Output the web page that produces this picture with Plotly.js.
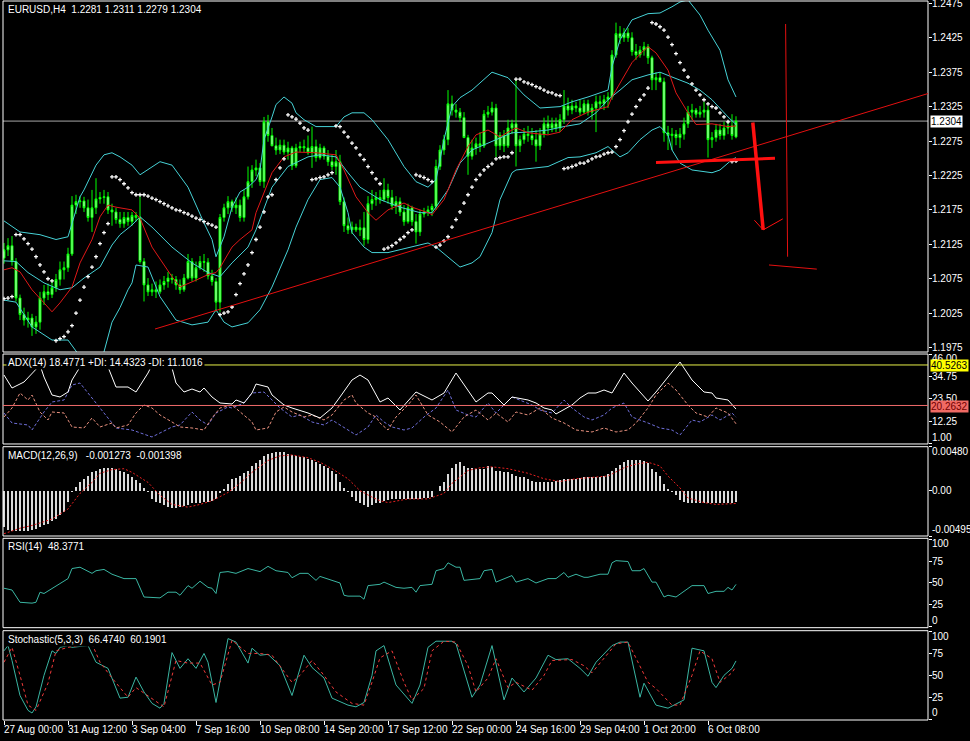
<!DOCTYPE html>
<html><head><meta charset="utf-8">
<script src="https://cdn.plot.ly/plotly-3.0.1.min.js"></script>
<style>html,body{margin:0;padding:0;background:#000;}#chart{width:970px;height:741px;}</style>
</head><body><div id="chart"></div>
<script>
// ---------- data ----------
const symbolName = "EURUSD,H4";
const tickBars = [0,16,32,48,64,80,96,112,128,144,160,176];
const tickLabels = ["27 Aug 00:00","31 Aug 12:00","3 Sep 04:00","7 Sep 16:00","10 Sep 08:00","14 Sep 20:00","17 Sep 12:00","22 Sep 00:00","24 Sep 16:00","29 Sep 04:00","1 Oct 20:00","6 Oct 08:00"];
const priceTicks = [1.1975,1.2025,1.2075,1.2125,1.2175,1.2225,1.2275,1.2325,1.2375,1.2425,1.2475];
const adxTicks = [1, 12.25, 23.5, 34.75, 46];
const macdTicks = [-0.00495, 0, 0.0048];
const macdTickText = ['-0.00495','0.00','0.00480'];
const pctTicks = [0, 25, 50, 75, 100];

const open = [1.2105,1.2117,1.2123,1.2100,1.2047,1.2023,1.2015,1.2018,1.2005,1.2012,
1.2047,1.2056,1.2052,1.2062,1.2074,1.2088,1.2091,1.2111,1.2182,1.2187,
1.2188,1.2178,1.2164,1.2178,1.2191,1.2193,1.2194,1.2175,1.2172,1.2161,
1.2155,1.2164,1.2158,1.2167,1.2164,1.2100,1.2066,1.2056,1.2059,1.2056,
1.2066,1.2071,1.2076,1.2074,1.2066,1.2059,1.2076,1.2100,1.2076,1.2091,
1.2100,1.2099,1.2079,1.2071,1.2041,1.2164,1.2178,1.2187,1.2178,1.2182,
1.2164,1.2194,1.2216,1.2233,1.2236,1.2216,1.2303,1.2283,1.2268,1.2262,
1.2269,1.2259,1.2265,1.2239,1.2265,1.2267,1.2265,1.2258,1.2267,1.2251,
1.2265,1.2253,1.2245,1.2238,1.2245,1.2187,1.2152,1.2146,1.2150,1.2146,
1.2149,1.2132,1.2184,1.2190,1.2193,1.2190,1.2204,1.2193,1.2181,1.2187,
1.2172,1.2158,1.2178,1.2158,1.2143,1.2169,1.2172,1.2175,1.2180,1.2238,
1.2262,1.2277,1.2329,1.2320,1.2317,1.2309,1.2280,1.2253,1.2265,1.2271,
1.2268,1.2314,1.2317,1.2323,1.2268,1.2283,1.2268,1.2294,1.2300,1.2268,
1.2277,1.2285,1.2283,1.2277,1.2268,1.2285,1.2300,1.2294,1.2300,1.2294,
1.2306,1.2326,1.2320,1.2326,1.2323,1.2317,1.2329,1.2317,1.2323,1.2332,
1.2329,1.2335,1.2339,1.2400,1.2431,1.2425,1.2432,1.2425,1.2405,1.2400,
1.2407,1.2412,1.2396,1.2364,1.2367,1.2361,1.2287,1.2283,1.2285,1.2280,
1.2285,1.2300,1.2317,1.2320,1.2314,1.2317,1.2320,1.2277,1.2280,1.2291,
1.2283,1.2294,1.2297,1.2281];
const high = [1.2127,1.2134,1.2137,1.2105,1.2052,1.2033,1.2027,1.2024,1.2021,1.2056,
1.2066,1.2068,1.2071,1.2082,1.2100,1.2100,1.2120,1.2195,1.2197,1.2195,
1.2194,1.2190,1.2204,1.2221,1.2201,1.2204,1.2201,1.2184,1.2178,1.2172,
1.2172,1.2172,1.2172,1.2172,1.2195,1.2105,1.2076,1.2068,1.2071,1.2074,
1.2079,1.2085,1.2082,1.2079,1.2074,1.2082,1.2111,1.2105,1.2100,1.2108,
1.2111,1.2105,1.2088,1.2076,1.2169,1.2184,1.2195,1.2190,1.2193,1.2190,
1.2204,1.2238,1.2240,1.2248,1.2243,1.2310,1.2313,1.2294,1.2280,1.2277,
1.2277,1.2274,1.2268,1.2271,1.2274,1.2277,1.2283,1.2296,1.2277,1.2271,
1.2268,1.2262,1.2255,1.2262,1.2255,1.2193,1.2164,1.2158,1.2155,1.2161,
1.2172,1.2195,1.2204,1.2201,1.2204,1.2221,1.2213,1.2204,1.2195,1.2193,
1.2182,1.2184,1.2181,1.2169,1.2175,1.2178,1.2181,1.2184,1.2248,1.2269,
1.2284,1.2349,1.2341,1.2329,1.2323,1.2317,1.2284,1.2277,1.2280,1.2288,
1.2320,1.2326,1.2332,1.2329,1.2288,1.2291,1.2306,1.2306,1.2364,1.2283,
1.2294,1.2297,1.2294,1.2291,1.2294,1.2309,1.2312,1.2309,1.2309,1.2314,
1.2349,1.2338,1.2335,1.2332,1.2335,1.2335,1.2335,1.2329,1.2341,1.2341,
1.2342,1.2346,1.2407,1.2447,1.2442,1.2439,1.2439,1.2433,1.2416,1.2413,
1.2419,1.2416,1.2399,1.2375,1.2375,1.2367,1.2297,1.2294,1.2291,1.2294,
1.2309,1.2326,1.2329,1.2323,1.2326,1.2332,1.2326,1.2288,1.2300,1.2300,
1.2303,1.2302,1.2314,1.2311];
const low = [1.2097,1.2108,1.2094,1.2042,1.2015,1.2007,1.2004,1.1992,1.1995,1.2001,
1.2037,1.2044,1.2047,1.2056,1.2065,1.2074,1.2085,1.2108,1.2169,1.2178,
1.2172,1.2158,1.2143,1.2169,1.2184,1.2184,1.2169,1.2152,1.2155,1.2149,
1.2149,1.2152,1.2152,1.2158,1.2097,1.2042,1.2050,1.2050,1.2047,1.2053,
1.2059,1.2062,1.2068,1.2059,1.2053,1.2056,1.2074,1.2071,1.2071,1.2088,
1.2085,1.2074,1.2065,1.2027,1.2027,1.2158,1.2169,1.2172,1.2169,1.2158,
1.2158,1.2190,1.2207,1.2224,1.2210,1.2207,1.2274,1.2268,1.2255,1.2256,
1.2255,1.2248,1.2233,1.2236,1.2259,1.2259,1.2255,1.2236,1.2245,1.2248,
1.2248,1.2239,1.2233,1.2226,1.2182,1.2143,1.2140,1.2140,1.2143,1.2137,
1.2123,1.2126,1.2175,1.2181,1.2184,1.2187,1.2184,1.2175,1.2169,1.2166,
1.2152,1.2155,1.2152,1.2126,1.2137,1.2164,1.2166,1.2166,1.2175,1.2233,
1.2255,1.2269,1.2312,1.2309,1.2303,1.2280,1.2226,1.2248,1.2255,1.2259,
1.2265,1.2309,1.2312,1.2252,1.2262,1.2259,1.2265,1.2285,1.2238,1.2259,
1.2271,1.2274,1.2269,1.2245,1.2262,1.2280,1.2285,1.2288,1.2288,1.2288,
1.2300,1.2312,1.2314,1.2317,1.2312,1.2314,1.2312,1.2306,1.2288,1.2323,
1.2320,1.2323,1.2335,1.2396,1.2416,1.2419,1.2419,1.2399,1.2393,1.2396,
1.2399,1.2387,1.2349,1.2349,1.2361,1.2274,1.2262,1.2262,1.2269,1.2265,
1.2277,1.2294,1.2306,1.2309,1.2309,1.2309,1.2251,1.2265,1.2274,1.2277,
1.2277,1.2285,1.2277,1.2279];
const close = [1.2117,1.2123,1.2100,1.2047,1.2023,1.2015,1.2018,1.2005,1.2012,1.2047,
1.2056,1.2052,1.2062,1.2074,1.2088,1.2091,1.2111,1.2182,1.2187,1.2188,
1.2178,1.2164,1.2178,1.2191,1.2193,1.2194,1.2175,1.2172,1.2161,1.2155,
1.2164,1.2158,1.2167,1.2164,1.2100,1.2066,1.2056,1.2059,1.2056,1.2066,
1.2071,1.2076,1.2074,1.2066,1.2059,1.2076,1.2100,1.2076,1.2091,1.2100,
1.2099,1.2079,1.2071,1.2041,1.2164,1.2178,1.2187,1.2178,1.2182,1.2164,
1.2194,1.2216,1.2233,1.2236,1.2216,1.2303,1.2283,1.2268,1.2262,1.2269,
1.2259,1.2265,1.2239,1.2265,1.2267,1.2265,1.2258,1.2267,1.2251,1.2265,
1.2253,1.2245,1.2238,1.2245,1.2187,1.2152,1.2146,1.2150,1.2146,1.2149,
1.2132,1.2184,1.2190,1.2193,1.2190,1.2204,1.2193,1.2181,1.2187,1.2172,
1.2158,1.2178,1.2158,1.2143,1.2169,1.2172,1.2175,1.2180,1.2238,1.2262,
1.2277,1.2329,1.2320,1.2317,1.2309,1.2280,1.2253,1.2265,1.2271,1.2268,
1.2314,1.2317,1.2323,1.2268,1.2283,1.2268,1.2294,1.2300,1.2268,1.2277,
1.2285,1.2283,1.2277,1.2268,1.2285,1.2300,1.2294,1.2300,1.2294,1.2306,
1.2326,1.2320,1.2326,1.2323,1.2317,1.2329,1.2317,1.2323,1.2332,1.2329,
1.2335,1.2339,1.2400,1.2431,1.2425,1.2432,1.2425,1.2405,1.2400,1.2407,
1.2412,1.2396,1.2364,1.2367,1.2361,1.2287,1.2283,1.2285,1.2280,1.2285,
1.2300,1.2317,1.2320,1.2314,1.2317,1.2320,1.2277,1.2280,1.2291,1.2283,
1.2294,1.2297,1.2283,1.2304];

// Parabolic SAR (one dot per bar)
const sar = [1.2046,1.2047,1.2049,1.2139,1.2139,1.2133,1.2126,1.2118,1.2107,1.2095,
1.2085,1.2075,1.2072,1.1985,1.1988,1.1991,1.1998,1.2007,1.2025,1.2044,
1.2063,1.2078,1.2092,1.2107,1.2126,1.2142,1.2155,1.2223,1.2223,1.2219,
1.2213,1.2207,1.2200,1.2197,1.2197,1.2197,1.2195,1.2192,1.2190,1.2187,
1.2184,1.2181,1.2178,1.2175,1.2174,1.2171,1.2169,1.2166,1.2163,1.2161,
1.2158,1.2155,1.2153,1.2150,1.2023,1.2025,1.2027,1.2034,1.2052,1.2068,
1.2082,1.2095,1.2113,1.2132,1.2150,1.2172,1.2194,1.2197,1.2219,1.2236,
1.2249,1.2313,1.2310,1.2307,1.2301,1.2294,1.2291,1.2219,1.2220,1.2222,
1.2223,1.2226,1.2229,1.2297,1.2296,1.2288,1.2281,1.2272,1.2265,1.2255,
1.2248,1.2238,1.2229,1.2220,1.2213,1.2118,1.2120,1.2123,1.2127,1.2132,
1.2136,1.2142,1.2146,1.2226,1.2224,1.2222,1.2219,1.2216,1.2121,1.2124,
1.2130,1.2136,1.2150,1.2161,1.2172,1.2185,1.2197,1.2208,1.2219,1.2226,
1.2233,1.2238,1.2242,1.2249,1.2251,1.2252,1.2252,1.2258,1.2365,1.2365,
1.2361,1.2359,1.2357,1.2354,1.2352,1.2349,1.2346,1.2345,1.2342,1.2341,
1.2235,1.2236,1.2238,1.2240,1.2243,1.2243,1.2246,1.2249,1.2252,1.2253,
1.2256,1.2258,1.2259,1.2267,1.2277,1.2290,1.2303,1.2314,1.2325,1.2335,
1.2342,1.2352,1.2447,1.2445,1.2441,1.2436,1.2426,1.2415,1.2402,1.2389,
1.2378,1.2368,1.2358,1.2349,1.2342,1.2335,1.2329,1.2325,1.2323,1.2316,
1.2310,1.2303,1.2245,1.2246];

// Bollinger bands & moving average (read at sample bars)
const bbUpperBars = [0,4,9,13,16,17,19,20,23,25,27,29,32,34,37,39,42,46,50,52,53,55,57,59,61,63,64,65,67,68,70,72,73,75,78,83,85,87,90,92,96,100,103,106,108,110,112,114,117,119,122,126,130,134,139,142,146,151,152,154,157,161,164,167,169,171,174,176,179,181,183];
const bbUpper = [1.2159,1.2143,1.2139,1.2132,1.2136,1.2156,1.2194,1.2204,1.2240,1.2255,1.2258,1.2252,1.2240,1.2226,1.2238,1.2245,1.2240,1.2208,1.2156,1.2132,1.2107,1.2136,1.2179,1.2201,1.2208,1.2219,1.2233,1.2277,1.2310,1.2328,1.2339,1.2330,1.2316,1.2306,1.2296,1.2296,1.2310,1.2316,1.2316,1.2306,1.2277,1.2238,1.2216,1.2208,1.2219,1.2277,1.2325,1.2338,1.2349,1.2359,1.2375,1.2367,1.2342,1.2323,1.2325,1.2332,1.2339,1.2349,1.2383,1.2422,1.2451,1.2460,1.2461,1.2470,1.2477,1.2480,1.2458,1.2436,1.2407,1.2364,1.2339];
const bbMidBars = [0,3,6,10,14,17,20,24,27,29,32,34,37,42,47,51,54,57,61,63,67,71,76,79,83,86,89,94,99,104,107,111,114,117,119,123,127,131,136,140,144,148,151,154,157,161,164,167,171,174,177,181,183];
const bbMid = [1.2101,1.2100,1.2084,1.2069,1.2059,1.2062,1.2076,1.2092,1.2124,1.2139,1.2153,1.2165,1.2150,1.2121,1.2098,1.2084,1.2078,1.2098,1.2121,1.2146,1.2208,1.2238,1.2252,1.2255,1.2252,1.2229,1.2208,1.2190,1.2179,1.2171,1.2171,1.2204,1.2243,1.2262,1.2267,1.2277,1.2287,1.2288,1.2291,1.2296,1.2300,1.2316,1.2335,1.2349,1.2364,1.2371,1.2375,1.2368,1.2359,1.2349,1.2335,1.2310,1.2299];
const bbLowerBars = [0,3,7,12,16,18,20,23,25,27,29,31,32,33,36,39,43,47,51,53,55,57,61,64,67,71,73,76,79,82,84,86,87,90,92,96,101,106,108,111,114,117,119,122,124,127,128,136,141,144,148,151,152,154,156,159,162,164,166,167,169,172,177,179,182,183];
const bbLower = [1.2044,1.2041,1.2005,1.1986,1.1986,1.1969,1.1954,1.1950,1.1969,1.2012,1.2033,1.2059,1.2069,1.2095,1.2092,1.2049,1.2015,1.2008,1.2012,1.2030,1.2012,1.2005,1.2011,1.2030,1.2063,1.2117,1.2150,1.2190,1.2219,1.2222,1.2208,1.2171,1.2142,1.2121,1.2113,1.2113,1.2120,1.2127,1.2121,1.2107,1.2092,1.2098,1.2107,1.2142,1.2190,1.2229,1.2233,1.2238,1.2251,1.2252,1.2258,1.2267,1.2262,1.2252,1.2258,1.2277,1.2291,1.2296,1.2284,1.2262,1.2243,1.2233,1.2229,1.2233,1.2248,1.2251];
const maBars = [0,2,4,7,10,12,14,17,19,22,24,26,28,32,34,37,42,44,48,51,53,54,57,59,62,63,67,70,73,78,83,85,88,91,93,96,100,102,106,107,110,113,116,118,121,124,126,128,131,136,139,142,146,151,152,154,157,160,161,163,166,168,171,173,177,181,183];
const maVals = [1.2088,1.2091,1.2085,1.2059,1.2040,1.2027,1.2040,1.2063,1.2098,1.2132,1.2165,1.2182,1.2179,1.2175,1.2163,1.2121,1.2078,1.2063,1.2073,1.2081,1.2084,1.2091,1.2121,1.2132,1.2146,1.2171,1.2229,1.2252,1.2259,1.2258,1.2255,1.2233,1.2194,1.2171,1.2160,1.2175,1.2185,1.2179,1.2171,1.2168,1.2190,1.2233,1.2267,1.2284,1.2291,1.2281,1.2288,1.2294,1.2287,1.2284,1.2288,1.2306,1.2317,1.2325,1.2339,1.2359,1.2389,1.2407,1.2412,1.2403,1.2378,1.2345,1.2316,1.2299,1.2300,1.2296,1.2297];

// ADX(14)
const adxBars = [0,2,5,7,9,10,12,14,16,17,19,22,26,28,31,33,36,37,39,42,43,45,47,49,50,52,54,57,58,60,62,63,66,67,70,72,76,79,82,84,87,89,91,94,96,99,103,107,110,113,116,118,121,122,125,127,131,133,135,137,138,142,144,146,148,150,152,155,157,161,163,166,169,172,175,177,178,181,183];
const adxVals = [35.5,29,32,36.5,40.5,34.5,25.5,24.5,27,33,39.5,43,39.5,29.5,29.5,27,36.5,40.5,43,39,31.5,27,28.5,27,29,24.5,21.5,21,23,21.5,26.5,31,29.5,25.5,20.5,19,16.5,14,19,24.5,33,35.5,33,22,24,18,27,23,26.5,36.5,28,22,26.5,26.5,20.5,24.5,23,21.5,19,18,16,20.5,24,26.5,26.5,28,26.5,36.5,31.5,22.5,27,34.5,42,33,27,26.5,24,23,18.48];
const plusDiBars = [0,2,6,7,10,12,15,17,19,21,23,26,28,32,34,37,39,42,44,47,49,51,53,56,57,60,62,65,67,69,72,74,77,80,82,86,88,91,93,95,97,100,102,105,108,111,113,116,118,121,123,127,129,132,134,137,140,142,145,147,150,152,155,157,161,164,167,169,172,174,177,179,182,183];
const plusDi = [16.5,11.5,10.5,8,17,22,23,30.5,31.5,26.5,21.5,14.5,9,8,6.5,4.5,6.5,9.5,10.5,17,13,10.5,16.5,19.5,19,21.5,26.5,27,23,19,14.5,15.5,12,10.5,13,8,5.5,9.5,15.5,12,9.5,8,9,14.5,19,28,18,15.5,14.5,21.5,16.5,24.5,23,20.5,18,16.5,23,19,14.5,13,15.5,19,21.5,14.5,11.5,9,8,5.5,13,12,15.5,13,16.5,14.43];
const minusDiBars = [0,2,4,6,7,9,11,12,15,17,20,22,24,27,28,31,33,35,37,39,42,44,47,50,52,54,57,59,62,63,66,68,70,72,75,77,80,82,85,87,88,91,93,94,96,98,101,103,106,109,112,115,118,121,123,126,128,131,134,137,140,143,147,150,153,156,158,161,163,166,168,171,173,176,178,181,183];
const minusDi = [14.5,19,26.5,23,25.5,17,13,17,16.5,9.5,9,14,9.5,11.5,9,10.5,16.5,20.5,19,15.5,12,9.5,9,8,14,19,20.5,17,12,8,9,17,19.5,17,14.5,15.5,13,15.5,23,25.5,21.5,16.5,14.5,11.5,8,14.5,20.5,25.5,15.5,12,7,14.5,18,13,16.5,12,17,15.5,19,14,11.5,8,7,9,7,8,11.5,19,25.5,31.5,28,20.5,16.5,14.5,19,16.5,11.1];
const adxLevels = [40.5263, 20.2632];

// MACD(12,26,9)
const macdMain = [-0.0040,-0.0043,-0.0044,-0.0044,-0.0044,-0.0044,-0.0044,-0.0043,-0.0042,-0.0040,
-0.0038,-0.0036,-0.0033,-0.0031,-0.0027,-0.0023,-0.0012,-0.0001,0.0004,0.0009,
0.0013,0.0016,0.0020,0.0022,0.0024,0.0025,0.0025,0.0025,0.0024,0.0022,
0.0020,0.0018,0.0015,0.0012,0.0008,0.0003,-0.0001,-0.0009,-0.0012,-0.0014,
-0.0016,-0.0018,-0.0019,-0.0019,-0.0018,-0.0017,-0.0016,-0.0014,-0.0013,-0.0013,
-0.0012,-0.0012,-0.0011,-0.0009,-0.0003,0.0002,0.0007,0.0013,0.0014,0.0016,
0.0019,0.0022,0.0027,0.0030,0.0033,0.0038,0.0040,0.0041,0.0042,0.0042,
0.0042,0.0040,0.0039,0.0038,0.0037,0.0037,0.0035,0.0033,0.0031,0.0029,
0.0027,0.0025,0.0022,0.0018,0.0009,0.0003,-0.0002,-0.0007,-0.0011,-0.0013,
-0.0016,-0.0018,-0.0016,-0.0014,-0.0013,-0.0011,-0.0010,-0.0009,-0.0009,-0.0009,
-0.0009,-0.0009,-0.0009,-0.0009,-0.0009,-0.0008,-0.0008,-0.0007,0.0000,0.0005,
0.0009,0.0018,0.0025,0.0029,0.0031,0.0027,0.0025,0.0025,0.0024,0.0024,
0.0024,0.0027,0.0026,0.0022,0.0021,0.0020,0.0020,0.0018,0.0016,0.0015,
0.0015,0.0013,0.0011,0.0009,0.0009,0.0009,0.0010,0.0010,0.0011,0.0012,
0.0013,0.0013,0.0013,0.0013,0.0014,0.0015,0.0015,0.0015,0.0015,0.0015,
0.0016,0.0018,0.0022,0.0025,0.0028,0.0031,0.0033,0.0034,0.0034,0.0033,
0.0032,0.0030,0.0024,0.0020,0.0016,0.0007,0.0002,-0.0002,-0.0005,-0.0010,
-0.0012,-0.0013,-0.0014,-0.0014,-0.0014,-0.0014,-0.0014,-0.0014,-0.0014,-0.0014,
-0.0014,-0.0013,-0.0013,-0.001273];
const macdSigBars = [0,4,7,12,16,19,22,24,27,30,32,36,39,42,46,49,52,56,59,62,66,69,72,76,79,82,86,89,92,94,96,101,106,110,112,116,119,122,126,131,135,139,143,148,151,155,158,161,164,166,169,171,175,178,183];
const macdSignal = [-0.0047,-0.0041,-0.0038,-0.0031,-0.0020,-0.0003,0.0009,0.0019,0.0023,0.0024,0.0020,0.0009,-0.0005,-0.0015,-0.0018,-0.0015,-0.0011,-0.0002,0.0008,0.0020,0.0033,0.0038,0.0039,0.0036,0.0031,0.0024,0.0013,0.0000,-0.0007,-0.0011,-0.0013,-0.0009,-0.0009,-0.0003,0.0008,0.0022,0.0025,0.0026,0.0024,0.0019,0.0013,0.0010,0.0013,0.0015,0.0016,0.0025,0.0029,0.0031,0.0027,0.0016,0.0003,-0.0008,-0.0013,-0.0015,-0.001398];

// RSI(14)
const rsiBars = [0,2,4,7,8,9,10,12,14,16,17,19,22,23,25,27,30,32,33,35,39,41,43,44,46,47,49,51,52,53,54,56,58,61,64,66,68,71,72,74,76,78,79,82,84,85,86,89,90,91,94,95,98,100,102,103,104,107,108,110,111,113,114,115,119,120,122,123,126,127,128,131,133,136,138,140,141,143,145,146,149,151,152,153,156,157,159,160,162,163,165,166,168,172,175,176,178,180,181,182,183];
const rsiVals = [44,42,28,27,28,39.5,38,44,50,55,66.5,68,61,64,65.5,60,55,55,55,34,33,39.5,39.5,36,47,44,52,45,44,38,62,63,61,66.5,63,69,64,62,56,61,61,53,57.5,53,50,36,35,35,31.5,47,48.5,51,45,44,45,39.5,47,48.5,64,66.5,73,68,68,53,55,64,65.5,51,56.5,58.5,51,55,50,55,55,62,56.5,60,56.5,56.5,60,60,73,75.5,74.5,64,64,66.5,51,51,34,36,34,47,47,38,40.5,40.5,45,42,48.38];

// Stochastic(5,3,3)
const stochBars = [0,1,2,4,6,7,8,10,12,13,14,16,17,21,23,26,29,31,33,35,37,39,40,42,44,46,48,50,51,53,56,58,61,62,64,66,69,72,75,77,80,82,86,88,90,92,93,95,98,101,102,104,106,108,112,113,117,119,122,125,127,130,133,136,138,141,144,146,148,152,154,156,159,160,163,166,170,172,175,177,178,180,182,183];
const stochMain = [78,84,67,27,10,7,14,50,78,75,82,84,82,84,65,58,24,25,48,31,18,12.5,18,76,58,69,58,75,65,19,92,88,64,81,73,74,61,27,73,59,47,24,16,14,19,50,78,84,39,24,18,39,82,89,89,86,25,39,84,22,47,31,47,73,68,69,58,49,65,84,88,88,25,41,16,12.5,22,81,78,42,36,50,58,66.47];
const stochSigBars = [0,2,4,6,8,11,13,16,22,24,27,31,33,37,40,43,46,49,52,54,57,61,64,67,72,74,77,80,83,87,90,92,94,97,100,102,105,107,110,113,116,118,121,123,126,128,132,135,137,142,145,147,150,153,156,158,161,163,167,169,172,174,177,179,182,183];
const stochSignal = [65,82,50,16,10,41,78,82,86,65,47,25,36,24,14,67,64,64,39,42,90,75,75,73,42,50,67,50,31,18,16,42,70,78,42,22,35,78,89,88,61,31,47,69,36,42,33,50,67,68,61,53,69,86,88,70,42,35,16,16,50,78,69,42,53,60.19];

// hand drawn objects on the price chart (bar index, price)
const drawX0 = [37.75, 163,    187.2,  187.6,  189.8,  195.4,  191.25];
const drawY0 = [1.2002, 1.2244, 1.2302, 1.2160, 1.2146, 1.2445, 1.2095];
const drawX1 = [231,    192.75, 189.8,  189.8,  194.7,  195.9,  203.2];
const drawY1 = [1.2344, 1.2250, 1.2146, 1.2146, 1.2162, 1.2107, 1.2089];

const titleAdx = "ADX(14) 18.4771 +DI: 14.4323 -DI: 11.1016";
const titleMacd = "MACD(12,26,9)   -0.001273  -0.001398";
const titleRsi = "RSI(14)  48.3771";
const titleStoch = "Stochastic(5,3,3)  66.4740  60.1901";

// ---------- chart ----------
const FONT = "Liberation Sans, Arial, sans-serif";
const bars = close.map((_, i) => i);
const n = close.length - 1;
const dMain = [0.5118, 1], dAdx = [0.3839, 0.5090], dMacd = [0.2559, 0.3801], dRsi = [0.1284, 0.2527], dSto = [0, 0.1242];
const BB = '#46D2D6';

const traces = [];
traces.push({type:'candlestick', x:bars, open, high, low, close, xaxis:'x', yaxis:'y',
  increasing:{line:{color:'#00FF00', width:1}, fillcolor:'#A8FFA8'},
  decreasing:{line:{color:'#00FF00', width:1}, fillcolor:'#E2FFE2'},
  whiskerwidth:0, hoverinfo:'skip'});
traces.push({type:'scatter', mode:'lines', x:bbUpperBars, y:bbUpper, line:{color:BB, width:1}, yaxis:'y', hoverinfo:'skip'});
traces.push({type:'scatter', mode:'lines', x:bbMidBars, y:bbMid, line:{color:BB, width:1}, yaxis:'y', hoverinfo:'skip'});
traces.push({type:'scatter', mode:'lines', x:bbLowerBars, y:bbLower, line:{color:BB, width:1}, yaxis:'y', hoverinfo:'skip'});
traces.push({type:'scatter', mode:'lines', x:maBars, y:maVals, line:{color:'#E01818', width:1}, yaxis:'y', hoverinfo:'skip'});
traces.push({type:'scatter', mode:'markers', x:bars, y:sar, marker:{symbol:'cross', size:3.2, color:'#FFFFFF', line:{width:0}}, yaxis:'y', hoverinfo:'skip'});

traces.push({type:'scatter', mode:'lines', x:plusDiBars, y:plusDi, line:{color:'#6E6ED8', width:1, dash:'3px,2px'}, yaxis:'y2', hoverinfo:'skip'});
traces.push({type:'scatter', mode:'lines', x:minusDiBars, y:minusDi, line:{color:'#E8907E', width:1, dash:'3px,2px'}, yaxis:'y2', hoverinfo:'skip'});
traces.push({type:'scatter', mode:'lines', x:adxBars, y:adxVals, line:{color:'#FFFFFF', width:1}, yaxis:'y2', hoverinfo:'skip'});

traces.push({type:'bar', x:bars, y:macdMain, width:0.28, marker:{color:'#DADADA', line:{width:0}}, yaxis:'y3', hoverinfo:'skip'});
traces.push({type:'scatter', mode:'lines', x:macdSigBars, y:macdSignal, line:{color:'#E82020', width:1, dash:'2px,2px'}, yaxis:'y3', hoverinfo:'skip'});

traces.push({type:'scatter', mode:'lines', x:rsiBars, y:rsiVals, line:{color:'#3AB5A2', width:1}, yaxis:'y4', hoverinfo:'skip'});

traces.push({type:'scatter', mode:'lines', x:stochBars, y:stochMain, line:{color:'#3AB5A2', width:1}, yaxis:'y5', hoverinfo:'skip'});
traces.push({type:'scatter', mode:'lines', x:stochSigBars, y:stochSignal, line:{color:'#F03A3A', width:1, dash:'3px,3px'}, yaxis:'y5', hoverinfo:'skip'});

function yAx(domain, range, vals) {
  return {domain, range, side:'right', anchor:'x', showgrid:false, zeroline:false, showline:false,
    tickmode:'array', tickvals:vals, showticklabels:false,
    ticks:'outside', ticklen:3, tickwidth:1, tickcolor:'#FFFFFF', fixedrange:true};
}

const shapes = [];
[dMain, dAdx, dMacd, dRsi, dSto].forEach(d => shapes.push({type:'rect', xref:'paper', yref:'paper', x0:0, x1:1, y0:d[0], y1:d[1], line:{color:'#FFFFFF', width:1}, layer:'above'}));
shapes.push({type:'line', xref:'paper', yref:'y', x0:0, x1:1, y0:close[n], y1:close[n], line:{color:'#A8A8A8', width:1}, layer:'below'});
shapes.push({type:'line', xref:'paper', yref:'y2', x0:0, x1:1, y0:adxLevels[0], y1:adxLevels[0], line:{color:'#E8F048', width:1}});
shapes.push({type:'line', xref:'paper', yref:'y2', x0:0, x1:1, y0:adxLevels[1], y1:adxLevels[1], line:{color:'#F06A6A', width:1}});
const drawW = [1, 3, 3.5, 1, 1, 1, 1];
const drawC = ['#E41010','#FF1010','#FF1010','#FF1010','#FF1010','#E41010','#E41010'];
drawX0.forEach((x0, k) => shapes.push({type:'line', xref:'x', yref:'y', x0, y0:drawY0[k], x1:drawX1[k], y1:drawY1[k], line:{color:drawC[k], width:drawW[k]}}));

const annotations = [];
function title(text, d) {
  annotations.push({xref:'paper', yref:'paper', x:0, y:d[1], xanchor:'left', yanchor:'top', xshift:3, yshift:-1,
    text, showarrow:false, bgcolor:'#000000', borderpad:1, font:{family:FONT, size:10, color:'#FFFFFF'}});
}
title(`${symbolName}  ${open[n].toFixed(4)} ${high[n].toFixed(4)} ${low[n].toFixed(4)} ${close[n].toFixed(4)}`.replace(/ /g, '&nbsp;'), dMain);
title(titleAdx, dAdx);
title(titleMacd.replace(/ /g, '&nbsp;'), dMacd);
title(titleRsi.replace(/ /g, '&nbsp;'), dRsi);
title(titleStoch.replace(/ /g, '&nbsp;'), dSto);
tickBars.forEach((b, k) => annotations.push({xref:'x', yref:'paper', x:b, y:0, xanchor:'left', yanchor:'top', xshift:-2, yshift:-2,
  text:tickLabels[k], showarrow:false, font:{family:FONT, size:10, color:'#FFFFFF'}}));

// right-hand axis labels (MT4 style: extreme labels kept inside their panel)
function axisLabels(yref, vals, texts, keepInside) {
  const lo = Math.min(...vals), hi = Math.max(...vals);
  vals.forEach((v, k) => {
    let anchor = 'middle', shift = 0;
    if (keepInside && v === hi) { anchor = 'top'; shift = 2; }
    if (keepInside && v === lo) { anchor = 'bottom'; shift = 0; }
    annotations.push({xref:'paper', yref, x:1, y:v, xanchor:'left', yanchor:anchor, xshift:3, yshift:shift, text:texts[k], showarrow:false,
      borderpad:0, font:{family:FONT, size:10, color:'#FFFFFF'}});
  });
}
axisLabels('y', priceTicks, priceTicks.map(v => v.toFixed(4)), false);
axisLabels('y2', adxTicks, adxTicks.map(v => v.toFixed(2)), true);
axisLabels('y3', macdTicks, macdTickText, true);
axisLabels('y4', pctTicks, pctTicks.map(String), true);
axisLabels('y5', pctTicks, pctTicks.map(String), true);

function box(yref, y, text, bg, fg, dy) {
  annotations.push({xref:'paper', yref, x:1, y, xanchor:'left', yanchor:'middle', xshift:2, yshift:dy, text, showarrow:false,
    bgcolor:bg, borderpad:0, font:{family:FONT, size:10, color:fg}});
}
box('y', close[n], close[n].toFixed(4), '#FFFFFF', '#000000', 0);
box('y2', adxLevels[0], adxLevels[0].toFixed(4), '#FFFF00', '#000000', -1);
box('y2', adxLevels[1], adxLevels[1].toFixed(4), '#F06A64', '#700000', -1);

const layout = {
  width:970, height:741, paper_bgcolor:'#000000', plot_bgcolor:'#000000',
  margin:{l:3, r:42, t:1, b:21}, showlegend:false, bargap:0,
  font:{family:FONT, size:10, color:'#FFFFFF'},
  xaxis:{range:[-0.25, 231], anchor:'y5', showgrid:false, zeroline:false, showline:false,
    tickmode:'array', tickvals:tickBars, ticks:'outside', ticklen:4, tickcolor:'#FFFFFF',
    showticklabels:false, rangeslider:{visible:false}, fixedrange:true},
  yaxis: yAx(dMain, [1.19686, 1.24784], priceTicks),
  yaxis2: yAx(dAdx, [1, 46], adxTicks),
  yaxis3: yAx(dMacd, [-0.00495, 0.0048], macdTicks),
  yaxis4: yAx(dRsi, [-1, 101], pctTicks),
  yaxis5: yAx(dSto, [-1, 101], pctTicks),
  shapes, annotations
};
Plotly.newPlot('chart', traces, layout, {staticPlot:true, displayModeBar:false});
</script></body></html>
